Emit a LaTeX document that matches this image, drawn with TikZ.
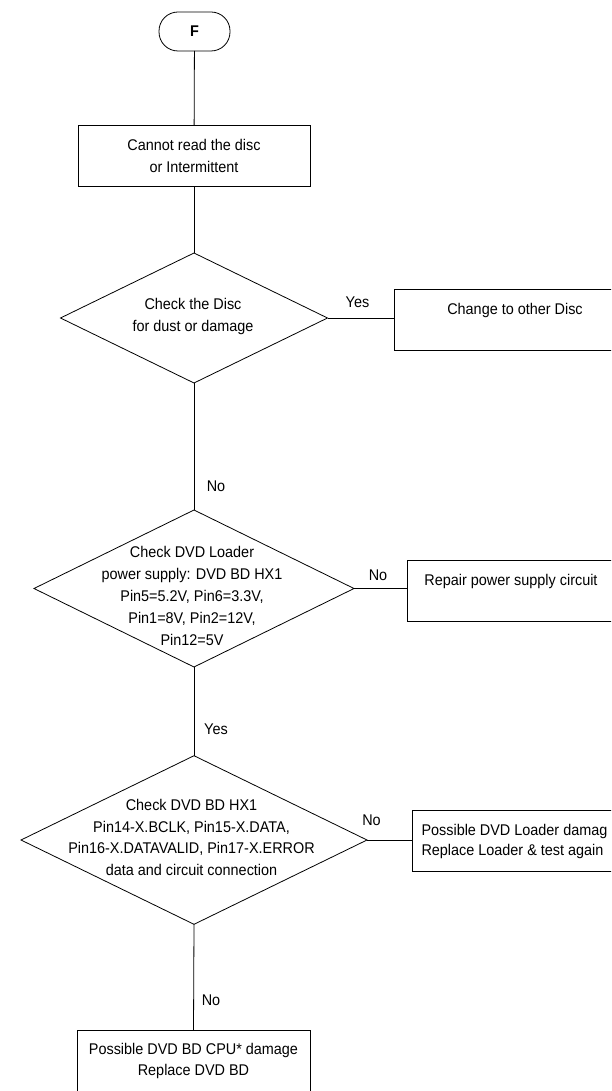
\documentclass[tikz,border=0pt]{standalone}
\usepackage{fontspec}
\setmainfont{Liberation Sans}[FakeStretch=0.93]
\usetikzlibrary{shapes.geometric}
\tikzset{
  every node/.style={font=\fontsize{15.5}{21.5}\selectfont, inner sep=0pt, outer sep=0pt},
  boxnode/.style={draw, rectangle, minimum width=#1, minimum height=61pt},
  dianode/.style={draw, diamond, aspect=2},
  termnode/.style={draw, rectangle, rounded corners=19pt, minimum width=71pt, minimum height=39pt, font=\fontsize{15.5}{21.5}\selectfont\bfseries},
  lbl/.style={anchor=center},
  txt/.style={align=center},
  conn/.style={draw}
}
\begin{document}
\begin{tikzpicture}[x=1pt, y=-1pt, line width=0.8pt]
\useasboundingbox (0,0) rectangle (611,1091);
\clip (0,0) rectangle (611,1091);

% start terminal
\node[termnode] (f) at (194.5,31.5) {F};

% box 1
\node[boxnode=232pt, txt] (b1) at (194,155.8) {Cannot read the disc\\or Intermittent};

% diamond 1
\node[dianode, minimum width=267pt, minimum height=130pt] (d1) at (194,318) {};
\node[txt] (d1t) at (193,316.5) {Check the Disc\\for dust or damage};

% box 2
\node[boxnode=242pt] (b2) at (515.2,319.5) {};
\node (b2t) at (515,310) {Change to other Disc};

% diamond 2
\node[dianode, minimum width=320pt, minimum height=157pt] (d2) at (194,588.5) {};
\node[txt, font=\fontsize{15.5}{21.8}\selectfont] (d2t) at (192,596) {Check DVD Loader\\power supply: DVD BD HX1\\Pin5=5.2V, Pin6=3.3V,\\Pin1=8V, Pin2=12V,\\Pin12=5V};

% box 3
\node[boxnode=213pt] (b3) at (513.5,590.5) {};
\node (b3t) at (511,581) {Repair power supply circuit};

% diamond 3
\node[dianode, minimum width=346pt, minimum height=168.6pt] (d3) at (194,840) {};
\node[txt, font=\fontsize{15.5}{21.7}\selectfont] (d3t) at (191.5,837.5) {Check DVD BD HX1\\Pin14-X.BCLK, Pin15-X.DATA,\\Pin16-X.DATAVALID, Pin17-X.ERROR\\data and circuit connection};

% box 4
\node[boxnode=240pt] (b4) at (532.7,841.3) {};
\node[align=left, anchor=west, font=\fontsize{15.5}{19.5}\selectfont] (b4t) at (421.5,841.5) {Possible DVD Loader damag\\Replace Loader \& test again};

% box 5
\node[boxnode=233pt, txt] (b5) at (193.5,1061.2) {Possible DVD BD CPU* damage\\Replace DVD BD};

% connectors
\draw (f) -- (b1);
\draw (b1) -- (d1.north);
\draw (d1.east) -- (d1.east -| b2.west);
\draw (d1.south) -- (d2.north);
\draw (d2.east) -- (d2.east -| b3.west);
\draw (d2.south) -- (d3.north);
\draw (d3.east) -- (d3.east -| b4.west);
\draw (d3.south) -- (b5.north);

% labels
\node[lbl] (l1) at (357.5,302) {Yes};
\node[lbl] (l2) at (216,486) {No};
\node[lbl] (l3) at (378,575.5) {No};
\node[lbl] (l4) at (216,729) {Yes};
\node[lbl] (l5) at (371.5,820) {No};
\node[lbl] (l6) at (211,1000.5) {No};
\end{tikzpicture}
\end{document}
